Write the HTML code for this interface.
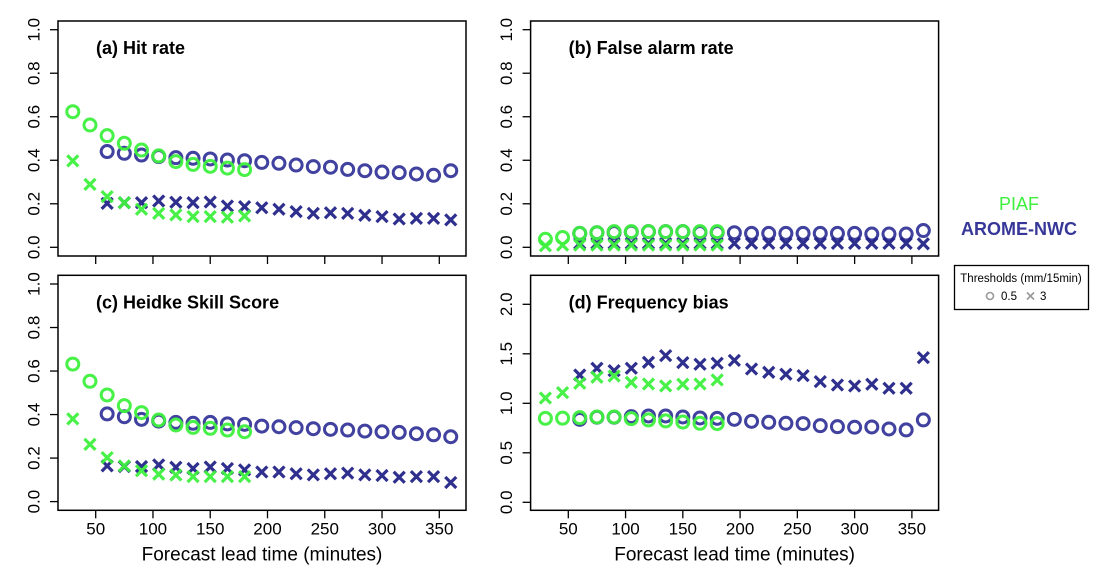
<!DOCTYPE html>
<html><head><meta charset="utf-8"><style>
body{margin:0;background:#fff;}
svg{display:block;font-family:"Liberation Sans",sans-serif;}
</style></head><body>
<svg id="chart" width="1107" height="583"></svg>
<script>
const piafLead=[30,45,60,75,90,105,120,135,150,165,180];
const aromeLead=[60,75,90,105,120,135,150,165,180,195,210,225,240,255,270,285,300,315,330,345,360];
const xTicks=[50,100,150,200,250,300,350];
const ticks01=[0,0.2,0.4,0.6,0.8,1.0];
const ticksBias=[0,0.5,1.0,1.5,2.0];
const hitPiaf05=[0.623,0.562,0.513,0.478,0.447,0.42,0.394,0.381,0.372,0.364,0.357];
const hitArome05=[0.44,0.432,0.424,0.417,0.412,0.409,0.406,0.401,0.398,0.39,0.386,0.378,0.371,0.368,0.358,0.352,0.346,0.343,0.337,0.331,0.352];
const hitPiaf3=[0.397,0.289,0.233,0.205,0.175,0.156,0.149,0.141,0.141,0.138,0.144];
const hitArome3=[0.202,0.205,0.205,0.213,0.207,0.205,0.208,0.19,0.187,0.182,0.175,0.164,0.156,0.159,0.156,0.147,0.141,0.13,0.133,0.133,0.126];
const farPiaf05=[0.037,0.045,0.064,0.067,0.072,0.072,0.072,0.072,0.072,0.072,0.072];
const farArome05=[0.064,0.067,0.068,0.07,0.072,0.072,0.072,0.068,0.068,0.067,0.064,0.064,0.064,0.064,0.064,0.064,0.064,0.061,0.061,0.061,0.077];
const farPiaf3=[0.007,0.01,0.01,0.01,0.01,0.01,0.01,0.01,0.01,0.01,0.01];
const farArome3=[0.018,0.018,0.018,0.018,0.018,0.018,0.018,0.018,0.018,0.018,0.018,0.018,0.018,0.018,0.018,0.018,0.018,0.018,0.018,0.018,0.016];
const hssPiaf05=[0.632,0.553,0.49,0.441,0.409,0.375,0.352,0.341,0.337,0.329,0.321];
const hssArome05=[0.403,0.39,0.378,0.37,0.364,0.36,0.364,0.357,0.355,0.347,0.344,0.34,0.335,0.332,0.329,0.324,0.321,0.318,0.312,0.307,0.298];
const hssPiaf3=[0.38,0.263,0.202,0.164,0.142,0.126,0.122,0.115,0.115,0.115,0.115];
const hssArome3=[0.164,0.161,0.161,0.169,0.158,0.152,0.159,0.152,0.146,0.136,0.136,0.128,0.123,0.128,0.131,0.123,0.12,0.112,0.115,0.115,0.088];
const biasPiaf05=[0.848,0.85,0.855,0.862,0.862,0.845,0.832,0.822,0.811,0.798,0.795];
const biasArome05=[0.838,0.859,0.859,0.865,0.872,0.872,0.862,0.852,0.848,0.838,0.818,0.808,0.798,0.795,0.774,0.764,0.758,0.761,0.741,0.731,0.832];
const biasPiaf3=[1.054,1.108,1.202,1.263,1.276,1.212,1.195,1.175,1.192,1.195,1.236];
const biasArome3=[1.286,1.354,1.33,1.354,1.414,1.481,1.411,1.394,1.404,1.434,1.347,1.313,1.293,1.279,1.219,1.185,1.175,1.192,1.152,1.152,1.461];

const svg=document.getElementById('chart');
const NS='http://www.w3.org/2000/svg';
function mk(tag,at,parent){const e=document.createElementNS(NS,tag);for(const k in at)e.setAttribute(k,at[k]);(parent||svg).appendChild(e);return e;}
const GREEN='#3ef03e', BLUE='#37379a', BLUEX='#242488';

function panel(id,ox,oy,title,ymin,yPerUnit,y0px,yt,showX,series){
  const g=mk('g',{});
  
  
  const L=58+ox,R=466+ox,T=21+oy,B=256+oy;
  const xs=v=>95.7+ox+(v-50)*1.1453;
  const ys=v=>y0px+oy-v*yPerUnit;
  const box=mk('rect',{x:L,y:T,width:R-L,height:B-T,fill:'none',stroke:'#000','stroke-width':1.5},g);
  
  
  yt.forEach(t=>{
    const y=ys(t);
    mk('line',{x1:L-8,x2:L,y1:y,y2:y,stroke:'#000','stroke-width':1.3},g);
    const tx=mk('text',{x:0,y:0,transform:`translate(${L-24},${y}) rotate(-90)`,'text-anchor':'middle','dominant-baseline':'central','font-size':17,fill:'#000'},g);
    tx.textContent=t.toFixed(1);
    
    
  });
  xTicks.forEach(t=>{
    const x=xs(t);
    mk('line',{x1:x,x2:x,y1:B,y2:B+8,stroke:'#000','stroke-width':1.3},g);
    if(showX){
      const tx=mk('text',{x:x,y:B+24,'text-anchor':'middle','font-size':17,fill:'#000'},g);
      tx.textContent=t;
      
      
    }
  });
  if(showX){
    const at=mk('text',{x:(L+R)/2,y:B+50,'text-anchor':'middle','font-size':19,fill:'#000'},g);
    at.textContent='Forecast lead time (minutes)';
    
    
  }
  const tt=mk('text',{x:L+38,y:T+33,'font-size':18,'font-weight':'bold',fill:'#000'},g);
  tt.textContent=title;
  
  
  series.forEach(s=>{
    s.vals.forEach((v,i)=>{
      const x=xs(s.lead[i]),y=ys(v);
      let m;
      if(s.shape==='o'){
        m=mk('circle',{cx:x,cy:y,r:6,fill:'none',stroke:s.color,'stroke-width':3,opacity:0.95},g);
      }else{
        const d=5.5;
        m=mk('path',{d:`M${x-d},${y-d}L${x+d},${y+d}M${x-d},${y+d}L${x+d},${y-d}`,stroke:s.color,'stroke-width':3.2,fill:'none',opacity:0.95},g);
      }
      
      
    });
  });
}
function S(name,lead,vals,shape,color){return {name,lead,vals,shape,color};}
panel('a',0,0,'(a) Hit rate',0,217.6,247.3,ticks01,false,[
  S('arome-0.5',aromeLead,hitArome05,'o',BLUE),S('arome-3',aromeLead,hitArome3,'x',BLUEX),
  S('piaf-0.5',piafLead,hitPiaf05,'o',GREEN),S('piaf-3',piafLead,hitPiaf3,'x',GREEN)]);
panel('b',472.6,0,'(b) False alarm rate',0,217.6,247.3,ticks01,false,[
  S('arome-0.5',aromeLead,farArome05,'o',BLUE),S('arome-3',aromeLead,farArome3,'x',BLUEX),
  S('piaf-0.5',piafLead,farPiaf05,'o',GREEN),S('piaf-3',piafLead,farPiaf3,'x',GREEN)]);
panel('c',0,254.3,'(c) Heidke Skill Score',0,217.6,247.3,ticks01,true,[
  S('arome-0.5',aromeLead,hssArome05,'o',BLUE),S('arome-3',aromeLead,hssArome3,'x',BLUEX),
  S('piaf-0.5',piafLead,hssPiaf05,'o',GREEN),S('piaf-3',piafLead,hssPiaf3,'x',GREEN)]);
panel('d',472.6,254.3,'(d) Frequency bias',0,99,248,ticksBias,true,[
  S('arome-0.5',aromeLead,biasArome05,'o',BLUE),S('arome-3',aromeLead,biasArome3,'x',BLUEX),
  S('piaf-0.5',piafLead,biasPiaf05,'o',GREEN),S('piaf-3',piafLead,biasPiaf3,'x',GREEN)]);

// legends
const lp=mk('text',{x:1019,y:210,'text-anchor':'middle','font-size':18,fill:GREEN});
lp.textContent='PIAF';


const la=mk('text',{x:1019,y:235,'text-anchor':'middle','font-size':18,'font-weight':'bold',fill:BLUE});
la.textContent='AROME-NWC';


const lb=mk('rect',{x:954.5,y:265.5,width:134,height:44,fill:'none',stroke:'#000','stroke-width':1.3});


const lt=mk('text',{x:1021,y:282,'text-anchor':'middle','font-size':11.5,fill:'#000'});
lt.textContent='Thresholds (mm/15min)';


const lc=mk('circle',{cx:990,cy:296,r:3.5,fill:'none',stroke:'#999','stroke-width':1.6});


const l1=mk('text',{x:1001,y:300,'font-size':11.5,fill:'#000'});
l1.textContent='0.5';


const lx=mk('path',{d:'M1027,292.5L1034,299.5M1027,299.5L1034,292.5',stroke:'#999','stroke-width':1.6});


const l3=mk('text',{x:1040,y:300,'font-size':11.5,fill:'#000'});
l3.textContent='3';


</script>
</body></html>
